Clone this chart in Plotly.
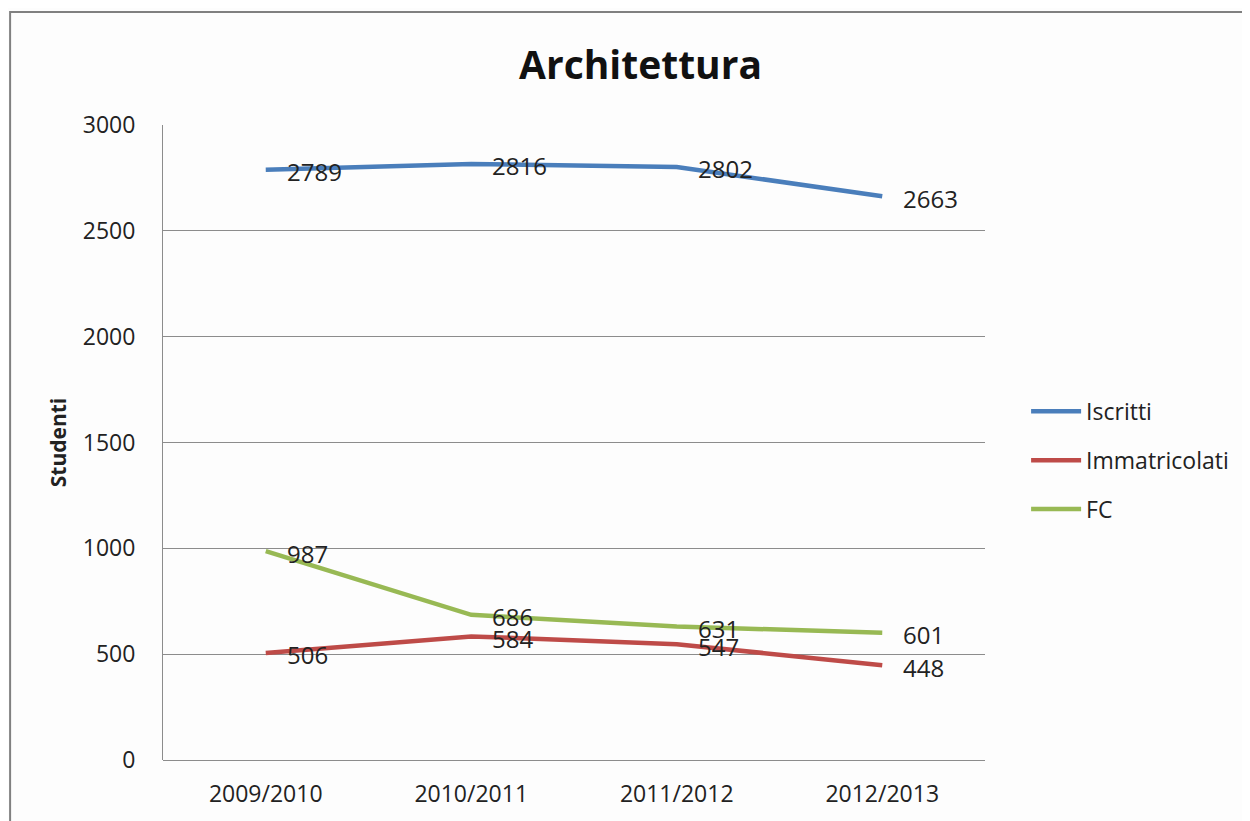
import plotly.graph_objects as go

anni = ["2009/2010", "2010/2011", "2011/2012", "2012/2013"]
iscritti = [2789, 2816, 2802, 2663]
immatricolati = [506, 584, 547, 448]
fc = [987, 686, 631, 601]

serie = [
    ("Iscritti", iscritti, "#4A7EBB"),
    ("Immatricolati", immatricolati, "#BE4B48"),
    ("FC", fc, "#98B954"),
]

font_name = "Open Sans"

fig = go.Figure()
for nome, valori, colore in serie:
    fig.add_trace(go.Scatter(
        x=anni, y=valori, name=nome, mode="lines",
        line=dict(color=colore, width=4.5),
        legendgroup=nome, cliponaxis=False,
    ))
    # etichette dei valori a destra dei punti
    for a, v in zip(anni, valori):
        fig.add_annotation(x=a, y=v, text=str(v), showarrow=False,
                           xanchor="left", yanchor="middle", xshift=19, yshift=-2,
                           font=dict(size=24, color="#222222", family=font_name))

fig.update_layout(
    width=1250, height=821,
    margin=dict(l=155, r=273, t=117, b=69),
    paper_bgcolor="#FDFDFD", plot_bgcolor="#FDFDFD",
    font=dict(family=font_name, size=23, color="#222222"),
    title=dict(text="<b>Architettura</b>", x=0.506, xanchor="center",
               y=0.93, yanchor="middle", font=dict(size=39, color="#111111")),
    legend=dict(x=1.05, xanchor="left", y=0.472, yanchor="middle",
                font=dict(size=23), tracegroupgap=16, itemwidth=50,
                bgcolor="rgba(0,0,0,0)"),
    showlegend=True,
)

fig.update_xaxes(type="category", range=[-0.5, 3.5], showgrid=False,
                 ticks="", showline=False, tickfont=dict(size=23),
                 ticklabelstandoff=18, zeroline=False)
fig.update_yaxes(range=[0, 3000], dtick=500, showgrid=True,
                 gridcolor="#8C8C8C", gridwidth=1, zeroline=True,
                 zerolinecolor="#8C8C8C", zerolinewidth=1,
                 showline=True, linecolor="#8C8C8C", linewidth=1,
                 ticks="", tickfont=dict(size=23), ticklabelstandoff=22,
                 title=dict(text="<b>Studenti</b>", font=dict(size=21), standoff=10))

# cornice del grafico
fig.add_shape(type="rect", xref="paper", yref="paper",
              x0=-0.186, x1=1.6, y0=-0.3, y1=1.178,
              line=dict(color="#808080", width=2), layer="below")

fig.write_html("out.html")
